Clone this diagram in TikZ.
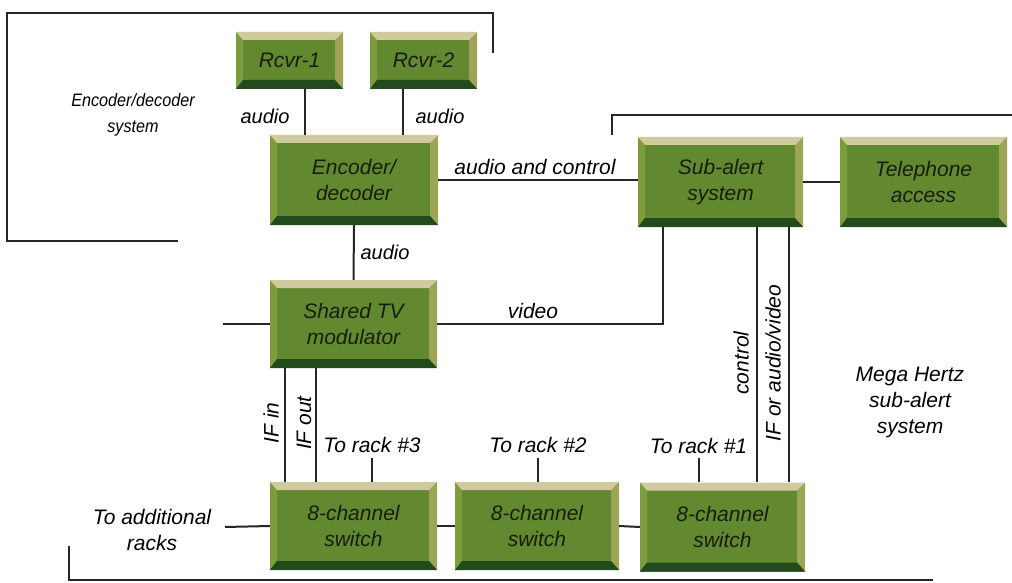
\documentclass[tikz,border=0pt]{standalone}
\usepackage{fontspec}
\setmainfont{Liberation Sans}
\usepackage{graphicx}
\usepackage{tikz}
\definecolor{boxface}{RGB}{98,136,48}
\definecolor{bevtop}{RGB}{208,202,158}
\definecolor{bevleft}{RGB}{124,156,62}
\definecolor{bevright}{RGB}{158,164,86}
\definecolor{bevbot}{RGB}{34,74,28}
\definecolor{boxtext}{RGB}{24,30,14}

\tikzset{
  greenbox/.style={rectangle, inner sep=0pt, fill=boxface, text=boxtext, align=center,
    minimum width=167pt, minimum height=90pt,
    path picture={
      \coordinate (bnw) at (path picture bounding box.north west);
      \coordinate (bne) at (path picture bounding box.north east);
      \coordinate (bsw) at (path picture bounding box.south west);
      \coordinate (bse) at (path picture bounding box.south east);
      \fill[bevleft] (bnw) -- (bsw) -- ([xshift=7pt,yshift=9pt]bsw) -- ([xshift=7pt,yshift=-8pt]bnw) -- cycle;
      \fill[bevright] (bne) -- (bse) -- ([xshift=-8pt,yshift=9pt]bse) -- ([xshift=-8pt,yshift=-8pt]bne) -- cycle;
      \fill[bevtop] (bnw) -- (bne) -- ([xshift=-8pt,yshift=-8pt]bne) -- ([xshift=7pt,yshift=-8pt]bnw) -- cycle;
      \fill[bevbot] (bsw) -- (bse) -- ([xshift=-8pt,yshift=9pt]bse) -- ([xshift=7pt,yshift=9pt]bsw) -- cycle;
    }},
  rcvrbox/.style={greenbox, minimum width=107pt, minimum height=57pt},
  lbl/.style={text=black, align=center},
  wire/.style={line width=2pt, black!85}
}
\newcommand{\narrow}[1]{\scalebox{0.9}[1]{#1}}

\begin{document}
\begin{tikzpicture}[x=1pt, y=-1pt, font=\fontsize{21}{26}\selectfont\itshape]
  \useasboundingbox (0,0) rectangle (1012,583);

  % Boxes
  \node[rcvrbox] (rcvra) at (289.5,60.5) {Rcvr-1};
  \node[rcvrbox] (rcvrb) at (423.5,60.5) {Rcvr-2};
  \node[greenbox, minimum width=168pt] (codec) at (354,180) {Encoder/\\decoder};
  \node[greenbox, minimum width=165pt] (subalert) at (720.5,182) {Sub-alert\\system};
  \node[greenbox] (phone) at (923.5,182) {Telephone\\access};
  \node[greenbox, minimum height=88pt] (modulator) at (353.5,324) {Shared TV\\modulator};
  \node[greenbox, minimum height=88pt] (swa) at (353.5,526) {8-channel\\switch};
  \node[greenbox, minimum width=164pt, minimum height=88pt] (swb) at (537,526) {8-channel\\switch};
  \node[greenbox, minimum width=165pt, minimum height=89pt] (swc) at (722.5,527) {8-channel\\switch};

  % Group brackets
  \coordinate (tla) at (178,241);
  \coordinate (tlc) at (7,13);
  \coordinate (tlb) at (493,53);
  \draw[wire] (tla) -| (tlc) -| (tlb);
  \coordinate (tra) at (612,135);
  \coordinate (trb) at (1012,115);
  \draw[wire] (tra) |- (trb);
  \coordinate (bla) at (69,546);
  \coordinate (blb) at (933,580);
  \draw[wire] (bla) |- (blb);

  % Connections
  \draw[wire] ([xshift=15.5pt]rcvra.south) -- ([xshift=15.5pt]rcvra.south |- codec.north);
  \draw[wire] ([xshift=-20.5pt]rcvrb.south) -- ([xshift=-20.5pt]rcvrb.south |- codec.north);
  \draw[wire] (codec.south) -- (modulator.north);
  \draw[wire] (codec.east) -- (codec.east -| subalert.west);
  \draw[wire] (subalert.east) -- (phone.west);
  \draw[wire] (modulator.east) -| ([xshift=25pt]subalert.south west);
  \coordinate (modin) at (223,324);
  \draw[wire] (modin) -- (modulator.west);
  \draw[wire] ([xshift=-46pt]subalert.south east) -- ([xshift=-46pt]subalert.south east |- swc.north);
  \draw[wire] ([xshift=-14pt]subalert.south east) -- ([xshift=-14pt]subalert.south east |- swc.north);
  \draw[wire] ([xshift=15pt]modulator.south west) -- ([xshift=15pt]modulator.south west |- swa.north);
  \draw[wire] ([xshift=46pt]modulator.south west) -- ([xshift=46pt]modulator.south west |- swa.north);
  \coordinate (addin) at (225,527);
  \draw[wire] (addin) -- (swa.west);
  \draw[wire] (swa.east) -- (swb.west);
  \draw[wire] (swb.east) -- (swc.west);
  \foreach \sw/\dx/\num in {swa/18.5/3, swb/1/2, swc/-24/1}{
    \draw[wire] ([xshift=\dx pt]\sw.north) -- ++(0,-24) node[lbl, above, inner sep=4pt] {To rack \#\num};
  }

  % Labels
  \node[lbl, font=\fontsize{18}{26}\selectfont\itshape] (lblsys) at (133,115) {\narrow{Encoder/decoder}\\\narrow{system}};
  \node[lbl, font=\fontsize{20}{26}\selectfont\itshape] (lblaudioa) at (265,116) {audio};
  \node[lbl, font=\fontsize{20}{26}\selectfont\itshape] (lblaudiob) at (440,116) {audio};
  \node[lbl, font=\fontsize{20}{26}\selectfont\itshape] (lblaudioc) at (385,252) {audio};
  \node[lbl] (lblctrl) at (535,167) {audio and control};
  \node[lbl] (lblvideo) at (533,311) {video};
  \node[lbl] (lblmhz) at (910,402) {Mega Hertz\\sub-alert\\system};
  \node[lbl] (lbladd) at (152,530) {To additional\\racks};
  \node[lbl, rotate=90] (lblcontrol) at (741,363) {control};
  \node[lbl, rotate=90] (lblifav) at (773,363) {IF or audio/video};
  \node[lbl, rotate=90] (lblifin) at (271,423) {IF in};
  \node[lbl, rotate=90] (lblifout) at (304,423) {IF out};
\end{tikzpicture}
\end{document}
